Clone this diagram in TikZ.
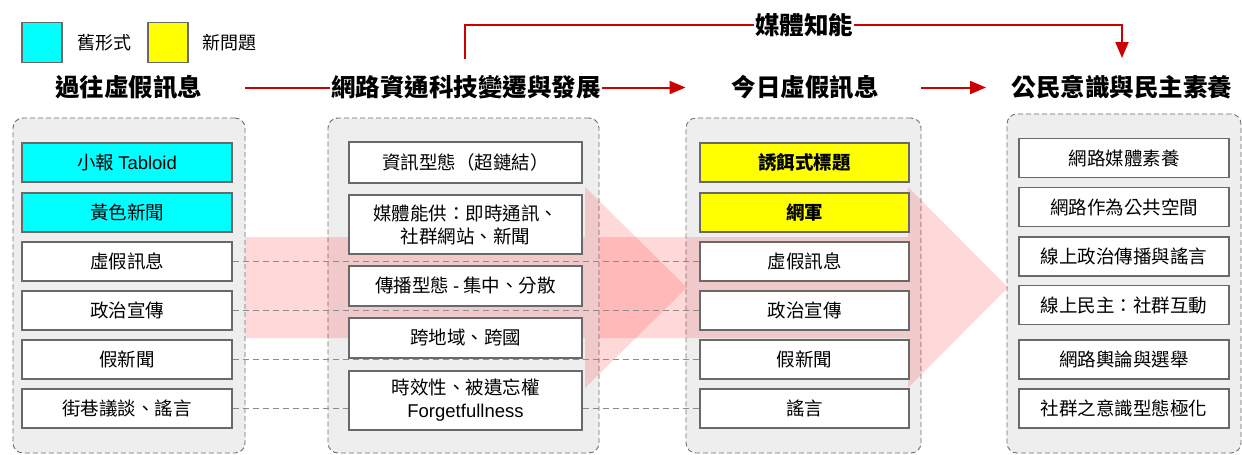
\documentclass[tikz,border=0pt]{standalone}
\usepackage{fontspec}
\setmainfont{Noto Sans CJK TC}
\newfontfamily\lat{Liberation Sans}
\usetikzlibrary{arrows.meta}
\definecolor{panelgray}{RGB}{238,238,238}
\definecolor{panelborder}{RGB}{110,110,110}
\definecolor{boxgray}{RGB}{105,105,105}
\definecolor{linkgray}{RGB}{140,140,140}
\definecolor{arrowred}{RGB}{204,0,0}
\definecolor{legcyan}{RGB}{0,255,255}
\definecolor{legyellow}{RGB}{255,255,0}
\pgfdeclarelayer{bg}
\pgfdeclarelayer{mid}
\pgfsetlayers{bg,mid,main}
\tikzset{
  panel/.style={draw=panelborder, fill=panelgray, dash pattern=on 5pt off 3pt, line width=0.9pt, rounded corners=10pt, inner sep=0pt},
  item/.style={draw=boxgray, fill=white, line width=1.3pt, minimum height=39pt, inner sep=0pt, align=center, font=\fontsize{18.5}{23}\selectfont},
  olditem/.style={item, fill=legcyan},
  newitem/.style={item, fill=legyellow, font=\fontsize{18.5}{23}\selectfont\bfseries},
  heading/.style={inner sep=1pt, font=\fontsize{24.5}{28}\selectfont\bfseries},
  legsq/.style={draw=boxgray, line width=1.2pt, minimum width=40pt, minimum height=40pt, inner sep=0pt},
  legtext/.style={inner sep=0pt, font=\fontsize{18}{22}\selectfont},
  redline/.style={draw=arrowred, line width=2pt},
  redarrow/.style={redline, -{Triangle[length=16pt,width=13pt]}},
  link/.style={draw=linkgray, line width=0.9pt, dash pattern=on 6pt off 4pt},
  flow/.style={fill={rgb,255:red,255;green,0;blue,0}, fill opacity=0.15, draw=none}
}
\begin{document}
\begin{tikzpicture}[x=1pt,y=-1pt]
\useasboundingbox (0,0) rectangle (1242,455);

% legend
\node[legsq, fill=legcyan] (legc) at (42,42.5) {};
\node[legtext] (legct) at (104,43) {舊形式};
\node[legsq, fill=legyellow] (legy) at (168,42.5) {};
\node[legtext] (legyt) at (229,43) {新問題};

% headings
\node[heading] (h1) at (128.5,87.5) {過往虛假訊息};
\node[heading] (h2) at (466,87.5) {網路資通科技變遷與發展};
\node[heading] (h3) at (805,87.5) {今日虛假訊息};
\node[heading] (h4) at (1122,87.5) {公民意識與民主素養};

% panels
\begin{pgfonlayer}{bg}
\node[panel, minimum width=232pt, minimum height=335pt] (p1) at (129,285.5) {};
\node[panel, minimum width=271pt, minimum height=335pt] (p2) at (463.5,285.5) {};
\node[panel, minimum width=235pt, minimum height=335pt] (p3) at (803.5,285.5) {};
\node[panel, minimum width=234pt, minimum height=339pt] (p4) at (1124,283.5) {};
% flow arrows
\fill[flow] (p1.east |- 0,237) -- (585,237) -- (585,187) -- (687,287.5) -- (585,388) -- (585,338) -- (p1.east |- 0,338) -- cycle;
\fill[flow] (p2.east |- 0,237) -- (908,237) -- (908,187) -- (1008,287.5) -- (908,388) -- (908,338) -- (p2.east |- 0,338) -- cycle;
\end{pgfonlayer}

% panel 1
\node[olditem, minimum width=210pt] (a1) at (127,162.5) {小報 {\lat Tabloid}};
\node[olditem, minimum width=210pt] (a2) at (127,212.5) {黃色新聞};
\node[item, minimum width=210pt] (a3) at (127,261.5) {虛假訊息};
\node[item, minimum width=210pt] (a4) at (127,310.5) {政治宣傳};
\node[item, minimum width=210pt] (a5) at (127,359.5) {假新聞};
\node[item, minimum width=210pt] (a6) at (127,408.5) {街巷議談、謠言};

% panel 2
\node[item, minimum width=233pt, minimum height=41pt] (b1) at (465.5,162.5) {資訊型態（超鏈結）};
\node[item, minimum width=233pt, minimum height=59pt] (b2) at (465.5,224.5) {媒體能供：即時通訊、\\社群網站、新聞};
\node[item, minimum width=233pt, minimum height=40pt] (b3) at (465.5,286) {傳播型態 {\lat -} 集中、分散};
\node[item, minimum width=233pt, minimum height=40pt] (b4) at (465.5,338) {跨地域、跨國};
\node[item, minimum width=233pt, minimum height=59pt] (b5) at (465.5,400.5) {時效性、被遺忘權\\{\lat Forgetfullness}};

% panel 3
\node[newitem, minimum width=209pt] (c1) at (804.5,162.5) {誘餌式標題};
\node[newitem, minimum width=209pt] (c2) at (804.5,212.5) {網軍};
\node[item, minimum width=209pt] (c3) at (804.5,261.5) {虛假訊息};
\node[item, minimum width=209pt] (c4) at (804.5,310.5) {政治宣傳};
\node[item, minimum width=209pt] (c5) at (804.5,359.5) {假新聞};
\node[item, minimum width=209pt] (c6) at (804.5,408.5) {謠言};

% panel 4
\node[item, minimum width=210pt] (d1) at (1124,158) {網路媒體素養};
\node[item, minimum width=210pt] (d2) at (1124,207) {網路作為公共空間};
\node[item, minimum width=210pt] (d3) at (1124,256.5) {線上政治傳播與謠言};
\node[item, minimum width=210pt] (d4) at (1124,305) {線上民主：社群互動};
\node[item, minimum width=210pt] (d5) at (1124,359.5) {網路輿論與選舉};
\node[item, minimum width=210pt] (d6) at (1124,408.5) {社群之意識型態極化};

% dashed links
\begin{pgfonlayer}{mid}
\draw[link] (a3.east) -- (c3.west);
\draw[link] (a4.east) -- (c4.west);
\draw[link] (a5.east) -- (c5.west);
\draw[link] (a6.east) -- (c6.west);
\end{pgfonlayer}

% red connectors
\coordinate (t1) at (465,59);
\coordinate (t2) at (1122,58);
\coordinate (a3end) at (986,87.5);
\draw[redline] (p1.east |- h1) -- (h2.west);
\draw[redarrow] (h2.east) -- (p3.west |- h2);
\draw[redarrow] (p3.east |- h3) -- (a3end);
\draw[redarrow] (t1) -- (465,25) -- node[pos=0.516, fill=white, inner sep=1pt, font=\fontsize{24.5}{28}\selectfont\bfseries] (lbl) {媒體知能} (1122,25) -- (t2);
\end{tikzpicture}
\end{document}
